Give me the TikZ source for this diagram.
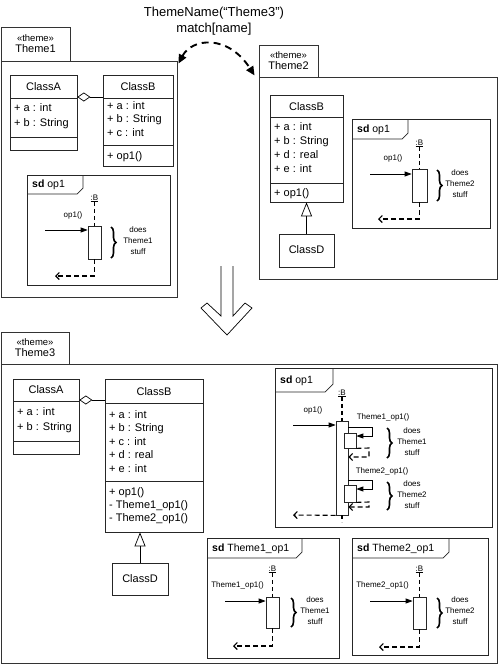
\documentclass[tikz,border=0pt]{standalone}
\usepackage{fontspec}
\setmainfont{Liberation Sans}
\usetikzlibrary{arrows.meta,fit,decorations.pathreplacing}
\newcommand\fcls{\fontsize{11}{13.5}\selectfont}
\newcommand\fsml{\fontsize{8}{11}\selectfont}
\newcommand\fhdr{\fontsize{10.5}{12}\selectfont}
\newcommand\fstr{\fontsize{9.5}{12}\selectfont}
\newcommand\ftop{\fontsize{13}{16}\selectfont}
\begin{document}
\begin{tikzpicture}[x=1pt,y=-1pt,
  box/.style={draw=black!85, line width=0.7pt, inner sep=0pt},
  pkg/.style={draw=black!80, line width=0.9pt, inner sep=0pt},
  cname/.style={font=\fcls, inner sep=0pt, text height=8pt, text depth=2pt},
  ctxt/.style={font=\fcls, inner sep=0pt, anchor=west, text height=8pt, text depth=2pt},
  stxt/.style={font=\fsml, inner sep=0pt, text height=6pt, text depth=1.5pt},
  htxt/.style={font=\fhdr, inner sep=0pt, anchor=west, text height=8pt, text depth=2pt},
  ptxt/.style={inner sep=0pt, align=center},
  dtxt/.style={font=\fsml, inner sep=0pt, align=center},
  act/.style={draw=black!85, fill=white, line width=0.7pt, inner sep=0pt},
  life/.style={line width=1.1pt, dash pattern=on 4pt off 3pt},
  msg/.style={line width=0.8pt, -{Triangle[length=7pt,width=5pt]}},
  ret/.style={line width=1.1pt, dash pattern=on 5pt off 3pt, -{Straight Barb[length=3.5pt,width=7pt]}},
  brc/.style={decorate, decoration={brace, amplitude=5pt}, line width=1.6pt},
  aggr/.style={line width=0.7pt, -{Diamond[open,length=13pt,width=9pt,line width=0.7pt]}},
  gen/.style={line width=0.7pt, -{Triangle[open,length=14pt,width=11pt,line width=0.7pt]}},
  cmp/.style={line width=0.7pt, draw=black!85},
  frm/.style={line width=0.7pt, draw=black!85}
]
\useasboundingbox (0,0) rectangle (500,665);

% ---------- top label and curved arrow ----------
\node[font=\ftop, inner sep=0pt] (lbl1) at (214,13) {ThemeName(“Theme3”)};
\node[font=\ftop, inner sep=0pt] (lbl2) at (214,29) {match[name]};

% ---------- Theme1 ----------
\node[pkg, fit={(1,27)(70,61)}] (t1tab) {};
\node[ptxt] (t1tabtxt) at (t1tab.center) {{\fstr «theme»}\\[-1pt]{\fcls Theme1}};
\node[pkg, fit={(1,61)(177,297)}] (t1body) {};

\node[box, fit={(10,75)(77,150)}] (t1A) {};
\draw[cmp] (10,98) -- (77,98) (10,137) -- (77,137);
\node[cname] (t1An) at (43.5,87) {ClassA};
\node[ctxt] (t1Aa) at (14,108) {+ a : int};
\node[ctxt] (t1Ab) at (14,123) {+ b : String};

\node[box, fit={(103,75)(173,166)}] (t1B) {};
\draw[cmp] (103,98) -- (173,98) (103,145) -- (173,145);
\node[cname] (t1Bn) at (138,87) {ClassB};
\node[ctxt] (t1Ba) at (107,106) {+ a : int};
\node[ctxt] (t1Bb) at (107,119.5) {+ b : String};
\node[ctxt] (t1Bc) at (107,133) {+ c : int};
\node[ctxt] (t1Bo) at (107,156) {+ op1()};
\draw[aggr] (t1B.west |- 0,97) -- (t1A.east |- 0,97);

\node[box, fit={(27,175)(170,285)}] (t1sd) {};
\draw[frm] (27,194) -- (77,194) -- (83,188) -- (83,175);
\node[htxt] (t1sdh) at (32,184.5) {\textbf{sd} op1};
\node[stxt] (t1lb) at (94.5,198) {\underline{:B}};
\node[act, fit={(88,226)(101,259)}] (t1act) {};
\draw[life] (t1lb.south) -- (t1act.north);
\coordinate (t1ret) at (55,276);
\draw[ret] (t1act.south) -- (t1act.south |- t1ret) -- (t1ret);
\coordinate (t1in) at (45,230);
\draw[msg] (t1in) -- (t1in -| t1act.west);
\node[stxt] (t1ml) at (73,215) {op1()};
\draw[brc] (111,227) -- (111,258);
\node[dtxt] (t1d) at (138,241) {does\\Theme1\\stuff};

% ---------- Theme2 ----------
\node[pkg, fit={(259,45)(318,77)}] (t2tab) {};
\node[ptxt] (t2tabtxt) at (t2tab.center) {{\fstr «theme»}\\[-1pt]{\fcls Theme2}};
\node[pkg, fit={(259,77)(497,279)}] (t2body) {};

\node[box, fit={(270,95)(343,202)}] (t2B) {};
\draw[cmp] (270,117) -- (343,117) (270,183) -- (343,183);
\node[cname] (t2Bn) at (306.5,107) {ClassB};
\node[ctxt] (t2Ba) at (274,127) {+ a : int};
\node[ctxt] (t2Bb) at (274,141) {+ b : String};
\node[ctxt] (t2Bd) at (274,155) {+ d : real};
\node[ctxt] (t2Be) at (274,169) {+ e : int};
\node[ctxt] (t2Bo) at (274,193) {+ op1()};
\node[box, fit={(279,234)(334,267)}] (t2D) {};
\node[cname] (t2Dn) at (t2D.center) {ClassD};
\draw[gen] (t2D.north) -- (t2B.south);

\node[box, fit={(352,119)(490,228)}] (t2sd) {};
\draw[frm] (352,139) -- (402,139) -- (408,133) -- (408,119);
\node[htxt] (t2sdh) at (357,129) {\textbf{sd} op1};
\node[stxt] (t2lb) at (419.5,143) {\underline{:B}};
\node[act, fit={(412,169)(427,202)}] (t2act) {};
\draw[life] (t2lb.south) -- (t2act.north);
\coordinate (t2ret) at (378,219);
\draw[ret] (t2act.south) -- (t2act.south |- t2ret) -- (t2ret);
\coordinate (t2in) at (370,174);
\draw[msg] (t2in) -- (t2in -| t2act.west);
\node[stxt] (t2ml) at (393,158) {op1()};
\draw[brc] (437,170) -- (437,201);
\node[dtxt] (t2d) at (460,184) {does\\Theme2\\stuff};

% ---------- curved dashed arrow ----------
\draw[line width=1.9pt, dash pattern=on 7pt off 5pt,
  {Triangle[length=9pt,width=8pt]}-{Triangle[length=9pt,width=8pt]}]
  ([shift={(1,3)}]t1body.north east) .. controls (192,38) and (228,34) .. ([shift={(-4,-2)}]t2tab.south west);

% ---------- big hollow arrow ----------
\draw[line width=0.7pt] (221,266) -- (221,316) -- (207,303) -- (201,308) -- (227,335)
  -- (252,308) -- (245,303) -- (233,316) -- (233,266);

% ---------- Theme3 ----------
\node[pkg, fit={(1,332)(69,364)}] (t3tab) {};
\node[ptxt] (t3tabtxt) at (t3tab.center) {{\fstr «theme»}\\[-1pt]{\fcls Theme3}};
\node[pkg, fit={(1,364)(497,663)}] (t3body) {};

\node[box, fit={(13,379)(79,454)}] (t3A) {};
\draw[cmp] (13,401) -- (79,401) (13,441) -- (79,441);
\node[cname] (t3An) at (46,390) {ClassA};
\node[ctxt] (t3Aa) at (17,412) {+ a : int};
\node[ctxt] (t3Ab) at (17,427) {+ b : String};

\node[box, fit={(105,379)(203,532)}] (t3B) {};
\draw[cmp] (105,403) -- (203,403) (105,481) -- (203,481);
\node[cname] (t3Bn) at (154,392) {ClassB};
\node[ctxt] (t3Ba) at (109,415) {+ a : int};
\node[ctxt] (t3Bb) at (109,428.5) {+ b : String};
\node[ctxt] (t3Bc) at (109,442) {+ c : int};
\node[ctxt] (t3Bd) at (109,455.5) {+ d : real};
\node[ctxt] (t3Be) at (109,469) {+ e : int};
\node[ctxt] (t3Bo1) at (109,492) {+ op1()};
\node[ctxt] (t3Bo2) at (109,505) {- Theme1\_op1()};
\node[ctxt] (t3Bo3) at (109,518) {- Theme2\_op1()};
\draw[aggr] (t3B.west |- 0,400) -- (t3A.east |- 0,400);
\node[box, fit={(112,563)(168,595)}] (t3D) {};
\node[cname] (t3Dn) at (t3D.center) {ClassD};
\draw[gen] (t3D.north) -- (t3D.north |- t3B.south);

% sd op1 (Theme3)
\node[box, fit={(275,368)(492,527)}] (t3sd) {};
\draw[frm] (275,392) -- (325,392) -- (333,384) -- (333,368);
\node[htxt] (t3sdh) at (280,380) {\textbf{sd} op1};
\node[stxt] (t3lb) at (342,393) {\underline{:B}};
\node[act, fit={(336,421)(348,515)}] (t3act) {};
\draw[life] (t3lb.south) -- (t3act.north);
\draw[life] (t3act.south) -- ++(0,7);
\coordinate (t3in) at (293,425);
\draw[msg] (t3in) -- (t3in -| t3act.west);
\node[stxt] (t3ml) at (313,410) {op1()};
\coordinate (t3ret) at (293,515);
\draw[ret] (t3act.south west) -- (t3ret);

\node[act, fit={(344,433)(356,448)}] (t3n1) {};
\draw[msg] (t3act.east |- 0,427) -- (372,427) -- (372,436) -- (t3n1.east |- 0,436);
\node[stxt] (t3n1l) at (383,417) {Theme1\_op1()};
\draw[ret] (t3n1.south east) -- (369,448) -- (369,457) -- (t3act.east |- 0,457);
\draw[brc] (387,428) -- (387,458);
\node[dtxt] (t3d1) at (412,442) {does\\Theme1\\stuff};

\node[act, fit={(344,485)(356,502)}] (t3n2) {};
\draw[msg] (t3act.east |- 0,480) -- (372,480) -- (372,489) -- (t3n2.east |- 0,489);
\node[stxt] (t3n2l) at (382,471) {Theme2\_op1()};
\draw[ret] (t3n2.south east) -- (369,502) -- (369,507) -- (t3act.east |- 0,507);
\draw[brc] (387,482) -- (387,510);
\node[dtxt] (t3d2) at (412,495) {does\\Theme2\\stuff};

% sd Theme1_op1
\node[box, fit={(207,538)(339,658)}] (t4sd) {};
\draw[frm] (207,558) -- (296,558) -- (302,552) -- (302,538);
\node[htxt] (t4sdh) at (212,548) {\textbf{sd} Theme1\_op1};
\node[stxt] (t4lb) at (272.5,569) {\underline{:B}};
\node[act, fit={(266,597)(279,628)}] (t4act) {};
\draw[life] (t4lb.south) -- (t4act.north);
\coordinate (t4ret) at (233,646);
\draw[ret] (t4act.south) -- (t4act.south |- t4ret) -- (t4ret);
\coordinate (t4in) at (225,601);
\draw[msg] (t4in) -- (t4in -| t4act.west);
\node[stxt] (t4ml) at (237.5,585) {Theme1\_op1()};
\draw[brc] (291,598) -- (291,627);
\node[dtxt] (t4d) at (315,611) {does\\Theme1\\stuff};

% sd Theme2_op1
\node[box, fit={(352,538)(488,655)}] (t5sd) {};
\draw[frm] (352,558) -- (443,558) -- (449,552) -- (449,538);
\node[htxt] (t5sdh) at (357,548) {\textbf{sd} Theme2\_op1};
\node[stxt] (t5lb) at (419.5,569) {\underline{:B}};
\node[act, fit={(413,597)(426,629)}] (t5act) {};
\draw[life] (t5lb.south) -- (t5act.north);
\coordinate (t5ret) at (379,647);
\draw[ret] (t5act.south) -- (t5act.south |- t5ret) -- (t5ret);
\coordinate (t5in) at (370,601);
\draw[msg] (t5in) -- (t5in -| t5act.west);
\node[stxt] (t5ml) at (382.5,585) {Theme2\_op1()};
\draw[brc] (437,598) -- (437,628);
\node[dtxt] (t5d) at (460,611) {does\\Theme2\\stuff};
\end{tikzpicture}
\end{document}
